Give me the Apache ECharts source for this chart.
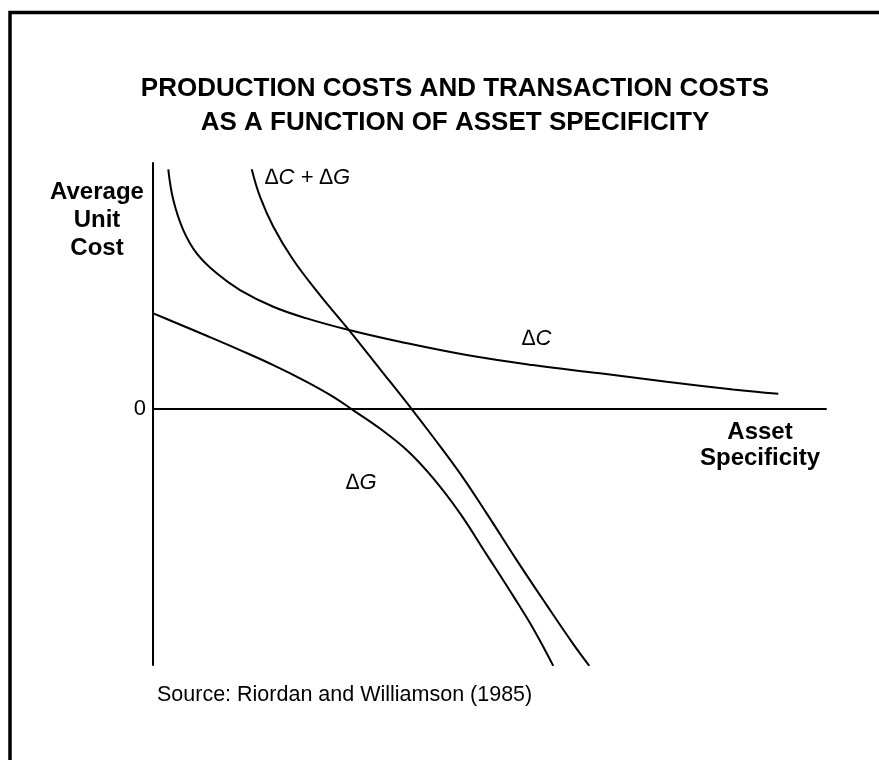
<!DOCTYPE html>
<html>
<head>
<meta charset="utf-8">
<script src="https://cdn.jsdelivr.net/npm/echarts@6/dist/echarts.min.js"></script>
<style>html,body{margin:0;padding:0;background:#fff}#c{width:879px;height:760px}</style>
</head>
<body>
<div id="c"></div>
<script>
// Asset specificity (x) vs. average unit cost (y)
const deltaC = [[0.227,4.872],[0.302,4.248],[0.450,3.638],[0.649,3.165],[0.947,2.758],[1.293,2.419],[1.788,2.079],[2.284,1.843],[2.912,1.606],[3.670,1.368],[4.661,1.098],[5.646,0.894],[6.642,0.726],[7.633,0.555],[8.618,0.400],[9.291,0.311]];
const deltaCG = [[1.467,4.872],[1.590,4.315],[1.788,3.705],[2.085,3.028],[2.481,2.317],[2.912,1.606],[3.373,0.813],[3.844,0.000],[4.165,-0.572],[4.562,-1.307],[4.958,-2.120],[5.404,-3.069],[5.850,-3.984],[6.245,-4.776],[6.483,-5.217]];
const deltaG = [[0.004,1.945],[0.302,1.774],[0.798,1.490],[1.293,1.199],[1.788,0.894],[2.284,0.555],[2.679,0.250],[2.972,-0.020],[3.373,-0.396],[3.770,-0.833],[4.165,-1.409],[4.562,-2.120],[4.958,-2.957],[5.354,-3.801],[5.651,-4.461],[5.948,-5.217]];
const yTickLabels = [0];
const titleText = 'PRODUCTION COSTS AND TRANSACTION COSTS\nAS A FUNCTION OF ASSET SPECIFICITY';
const yName = 'Average\nUnit\nCost';
const xName = 'Asset\nSpecificity';
const sourceText = 'Source: Riordan and Williamson (1985)';

const FONT = '"Liberation Sans", Arial, sans-serif';
const chart = echarts.init(document.getElementById('c'), null, {renderer: 'canvas'});
const lineSeries = (name, data) => ({
  name, type: 'line', data, smooth: 0.4, showSymbol: false, silent: true,
  lineStyle: {color: '#000', width: 2}
});
chart.setOption({
  animation: false,
  backgroundColor: '#fff',
  grid: {left: 153, right: 53, top: 163, bottom: 95},
  xAxis: {
    type: 'value', min: 0, max: 10,
    axisLine: {onZero: true, lineStyle: {color: '#000', width: 2}},
    axisTick: {show: false}, axisLabel: {show: false}, splitLine: {show: false}
  },
  yAxis: {
    type: 'value', min: -5.2, max: 5.0,
    axisLine: {show: true, onZero: true, lineStyle: {color: '#000', width: 2}},
    axisTick: {show: false}, splitLine: {show: false},
    axisLabel: {show: true, customValues: yTickLabels, margin: 7, color: '#000', fontSize: 22, fontFamily: FONT}
  },
  series: [lineSeries('ΔC', deltaC), lineSeries('ΔC + ΔG', deltaCG), lineSeries('ΔG', deltaG)],
  graphic: [
    {type: 'rect', shape: {x: 10, y: 12.5, width: 1000, height: 1000}, style: {fill: 'none', stroke: '#000', lineWidth: 3.5}, silent: true},
    {type: 'text', x: 455, y: 72, style: {text: titleText, font: 'bold 26px ' + FONT, fill: '#000', textAlign: 'center', textVerticalAlign: 'top', lineHeight: 34}},
    {type: 'text', x: 97, y: 178, style: {text: yName, font: 'bold 24px ' + FONT, fill: '#000', textAlign: 'center', textVerticalAlign: 'top', lineHeight: 28}},
    {type: 'text', x: 760, y: 419, style: {text: xName, font: 'bold 24px ' + FONT, fill: '#000', textAlign: 'center', textVerticalAlign: 'top', lineHeight: 26}},
    {type: 'text', x: 265, y: 178, style: {text: '∆C + ∆G', font: 'italic 22px ' + FONT, fill: '#000', textAlign: 'left', textVerticalAlign: 'middle'}},
    {type: 'text', x: 522, y: 339, style: {text: '∆C', font: 'italic 22px ' + FONT, fill: '#000', textAlign: 'left', textVerticalAlign: 'middle'}},
    {type: 'text', x: 346, y: 483, style: {text: '∆G', font: 'italic 22px ' + FONT, fill: '#000', textAlign: 'left', textVerticalAlign: 'middle'}},
    {type: 'text', x: 157, y: 695, style: {text: sourceText, font: '21.5px ' + FONT, fill: '#000', textAlign: 'left', textVerticalAlign: 'middle'}}
  ]
});
</script>
</body>
</html>
